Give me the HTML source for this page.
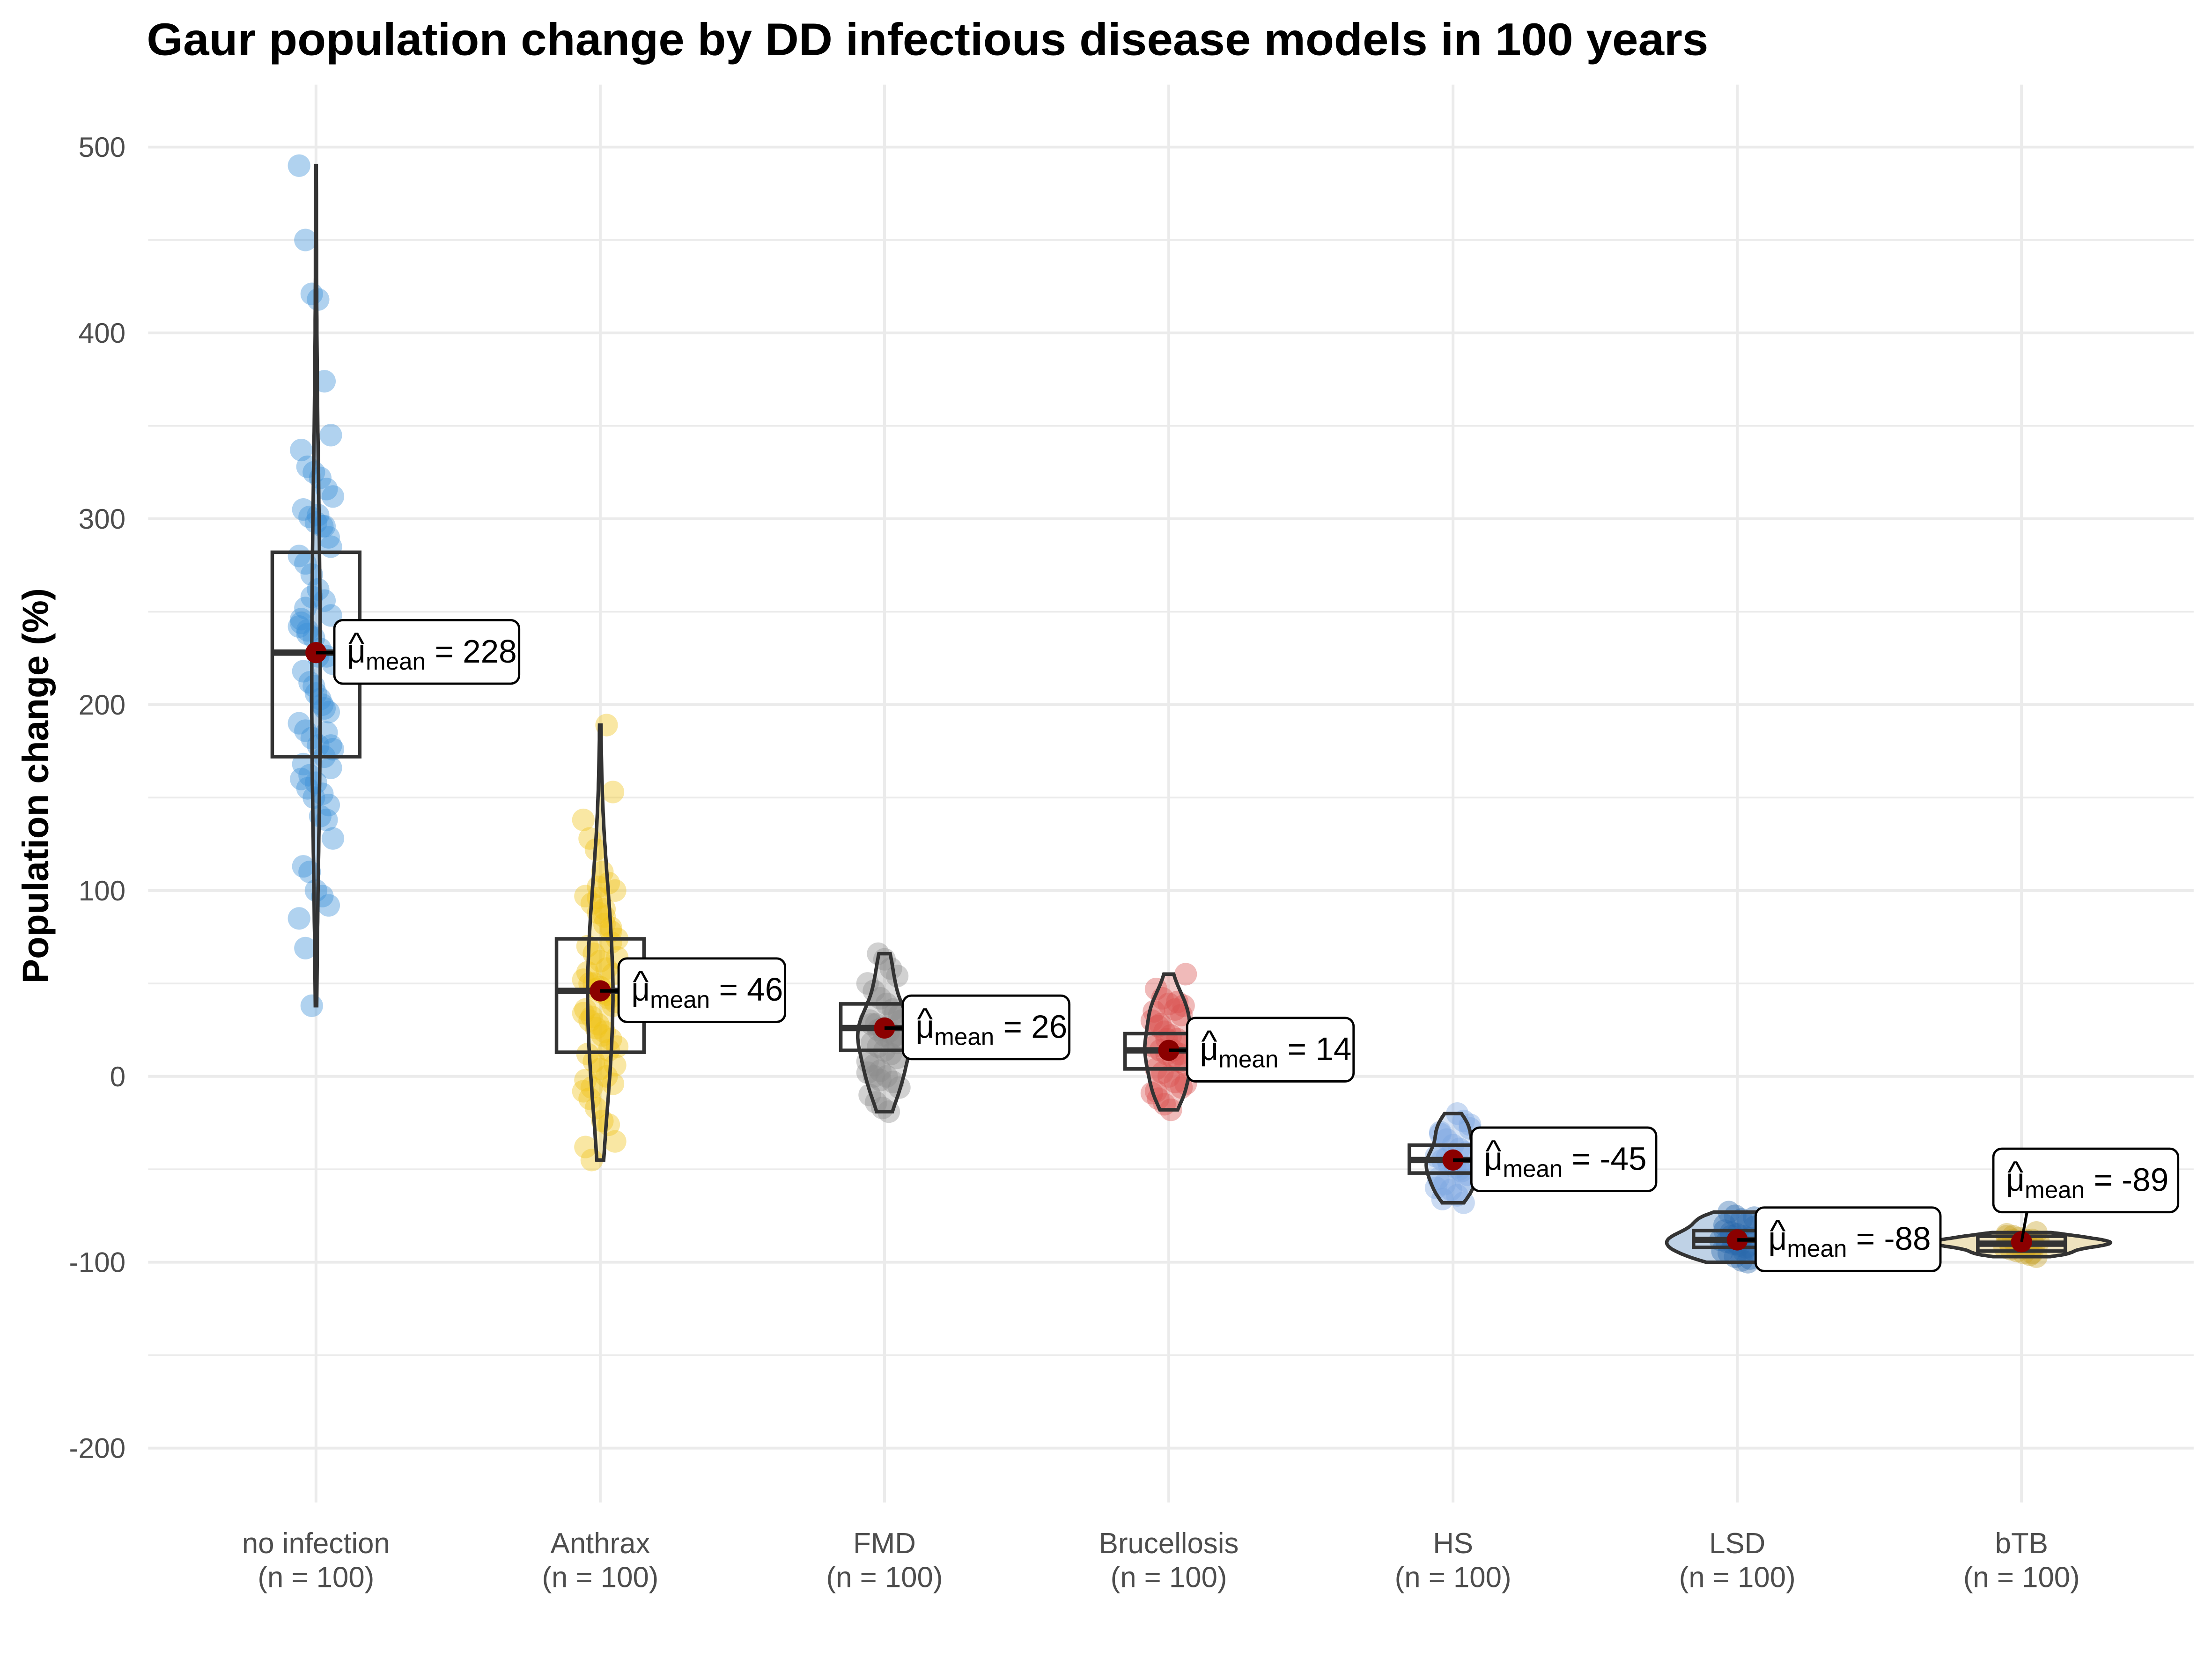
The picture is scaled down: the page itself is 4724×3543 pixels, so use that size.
<!DOCTYPE html>
<html><head><meta charset="utf-8"><style>
html,body{margin:0;padding:0;background:#fff;}
svg{display:block;font-family:"Liberation Sans",Arial,sans-serif;}
</style></head><body>
<svg id="chart" width="4724" height="3543" viewBox="0 0 1568 1176" xmlns="http://www.w3.org/2000/svg">
<rect x="0" y="0" width="1568" height="1176" fill="#fff"/>
<text x="104" y="39" font-size="32.5" font-weight="bold" fill="#000" textLength="1107" lengthAdjust="spacingAndGlyphs">Gaur population change by DD infectious disease models in 100 years</text>
<text transform="translate(34,557) rotate(-90)" text-anchor="middle" font-size="26" font-weight="bold" fill="#000">Population change (%)</text>
<g id="grid"></g><g id="marks"></g><g id="labels"></g>
</svg>
<script>
const categories=["no infection","Anthrax","FMD","Brucellosis","HS","LSD","bTB"];
const counts=[100,100,100,100,100,100,100];
const yTicks=[-200,-100,0,100,200,300,400,500];
const q1=[172,13,14,4,-52,-92,-94];
const medians=[228,46,26,14,-45,-88,-90];
const q3=[282,74,39,23,-37,-83,-86];
const wMin=[38,-45,-19,-18,-68,-100,-97];
const wMax=[490,189,66,55,-20,-73,-84];
const means=[228,46,26,14,-45,-88,-89];
const ptsNoInf=[490,450,421,418,374,345,337,328,325,322,316,312,305,301,298,296,290,280,276,270,262,256,248,244,240,236,230,226,222,218,212,206,200,196,190,186,182,178,172,166,160,155,150,140,138,128,113,110,100,97,92,85,69,38,302,296,285,246,238,210,203,185,176,168,162,158,152,146,242,252,258,226,198,178];
const ptsAnthrax=[189,153,138,128,122,110,104,100,97,93,88,82,78,74,70,66,62,58,55,52,50,47,45,42,40,36,32,28,24,20,16,12,8,4,0,-4,-8,-12,-17,-24,-26,-35,-38,-45,96,86,72,64,56,50,48,44,38,34,30,26,22,14,6,-2,-6,102,90,80];
const ptsFMD=[66,63,58,54,50,46,42,39,36,33,30,28,26,24,22,20,18,16,14,12,10,8,6,3,0,-3,-6,-10,-14,-17,-19,34,30,28,25,22,20,18,2,0,-2];
const ptsBruc=[55,47,42,39,36,33,30,27,24,22,20,18,16,14,12,10,8,6,4,2,0,-3,-6,-9,-12,-15,-18,40,38,35,28,20,14,12,-4,-8];
const ptsHS=[-20,-24,-28,-31,-34,-37,-39,-41,-43,-45,-47,-49,-51,-53,-55,-58,-61,-64,-68,-26,-30,-44,-46,-50,-56,-60,-66];
const ptsLSD=[-73,-75,-77,-79,-81,-83,-84,-85,-86,-87,-88,-89,-90,-91,-92,-93,-94,-95,-97,-99,-100,-76,-80,-86,-90,-94,-98];
const ptsBTB=[-84,-85,-86,-87,-88,-88,-89,-89,-90,-90,-91,-91,-92,-93,-94,-95,-96,-97,-86,-88,-90,-92,-95];
const points=[ptsNoInf,ptsAnthrax,ptsFMD,ptsBruc,ptsHS,ptsLSD,ptsBTB];
// styles
const colors=["#3a8fd6","#f0c419","#8c8c8c","#d9534f","#7aa5e0","#2a69ad","#c9a227"];
const violinHalf=[3,9,19,17,19,50,63];
const ns="http://www.w3.org/2000/svg";
const X=i=>224+i*201.5;
const Y=v=>763-v*1.3175;
function mk(tag,attrs,parent){const e=document.createElementNS(ns,tag);for(const k in attrs)e.setAttribute(k,attrs[k]);parent.appendChild(e);return e;}
const grid=document.getElementById('grid'),marks=document.getElementById('marks'),labels=document.getElementById('labels');
for(let v=-250;v<=550;v+=50){const y=Y(v);if(y<60||y>1065)continue;const major=v%100===0;
 const l=mk('line',{x1:105,x2:1555,y1:y,y2:y,stroke:'#ebebeb','stroke-width':major?2:1.2},grid);
 }
categories.forEach((c,i)=>{const l=mk('line',{x1:X(i),x2:X(i),y1:60,y2:1065,stroke:'#ebebeb','stroke-width':2},grid);
 });
yTicks.forEach(t=>{const tx=mk('text',{x:89,y:Y(t)+7,'text-anchor':'end','font-size':20,fill:'#4d4d4d'},labels);tx.textContent=t;
 });
categories.forEach((c,i)=>{const t=mk('text',{x:X(i),y:1101,'text-anchor':'middle','font-size':20.5,fill:'#4d4d4d'},labels);
 
 const a=mk('tspan',{x:X(i),dy:0},t);a.textContent=c;const b=mk('tspan',{x:X(i),dy:24},t);b.textContent='(n = '+counts[i]+')';});
categories.forEach((c,i)=>{
 const g=mk('g',{},marks);
 const pts=points[i],cx=X(i);
 pts.forEach((v,k)=>{const j=(((k*37+i*11)%17)-8)/8*12;
  const p=mk('circle',{cx:cx+j,cy:Y(v),r:8,fill:colors[i],'fill-opacity':0.4},g);
  });
 const lo=wMin[i],hi=wMax[i],bw=(hi-lo)*0.12||1;const steps=60;const dens=[];let mx=0;
 for(let s=0;s<=steps;s++){const v=lo+(hi-lo)*s/steps;let d=0;pts.forEach(p=>{const z=(v-p)/bw;d+=Math.exp(-z*z/2);});dens.push([v,d]);if(d>mx)mx=d;}
 let path='';dens.forEach(([v,d],s)=>{path+=(s?'L':'M')+(cx+d/mx*violinHalf[i]).toFixed(1)+','+Y(v).toFixed(1);});
 for(let s=dens.length-1;s>=0;s--){const [v,d]=dens[s];path+='L'+(cx-d/mx*violinHalf[i]).toFixed(1)+','+Y(v).toFixed(1);}
 path+='Z';
 const vp=mk('path',{d:path,fill:colors[i],'fill-opacity':0.3,stroke:'#333','stroke-width':2.5},g);
 
 const hw=31;
 const bx=mk('rect',{x:cx-hw,y:Y(q3[i]),width:hw*2,height:Y(q1[i])-Y(q3[i]),fill:'none',stroke:'#333','stroke-width':2.5},g);
 
 const md=mk('line',{x1:cx-hw,x2:cx+hw,y1:Y(medians[i]),y2:Y(medians[i]),stroke:'#333','stroke-width':4.5},g);
 
 const mp=mk('circle',{cx:cx,cy:Y(means[i]),r:7.5,fill:'#8b0000'},g);
 
 const above=(i===6);const lx=above?cx-20:cx+13,ly=above?Y(means[i])-66:Y(means[i])-23;
 const lb=mk('g',{},labels);
 const txt=String(means[i]);const w=92+txt.length*13;
 if(!above)mk('line',{x1:cx,x2:lx,y1:Y(means[i]),y2:Y(means[i]),stroke:'#000','stroke-width':2.5},lb);
 else mk('line',{x1:cx,x2:cx+4,y1:Y(means[i]),y2:ly+44,stroke:'#000','stroke-width':2},lb);
 mk('rect',{x:lx,y:ly,width:w,height:45,rx:6,fill:'#fff',stroke:'#000','stroke-width':1.6},lb);
 const hat=mk('text',{x:lx+10,y:ly+24,'font-size':22,fill:'#000',transform:`translate(${lx+10},${ly+24}) scale(1.1,1) translate(${-(lx+10)},${-(ly+24)})`},lb);hat.textContent='^';
 const t=mk('text',{x:lx+9,y:ly+30,'font-size':23,fill:'#000'},lb);
 const a=mk('tspan',{},t);a.textContent='μ';
 const b=mk('tspan',{'font-size':17,dy:5},t);b.textContent='mean';
 const d=mk('tspan',{dy:-5},t);d.textContent=' = '+txt;
});
</script>
</body></html>
